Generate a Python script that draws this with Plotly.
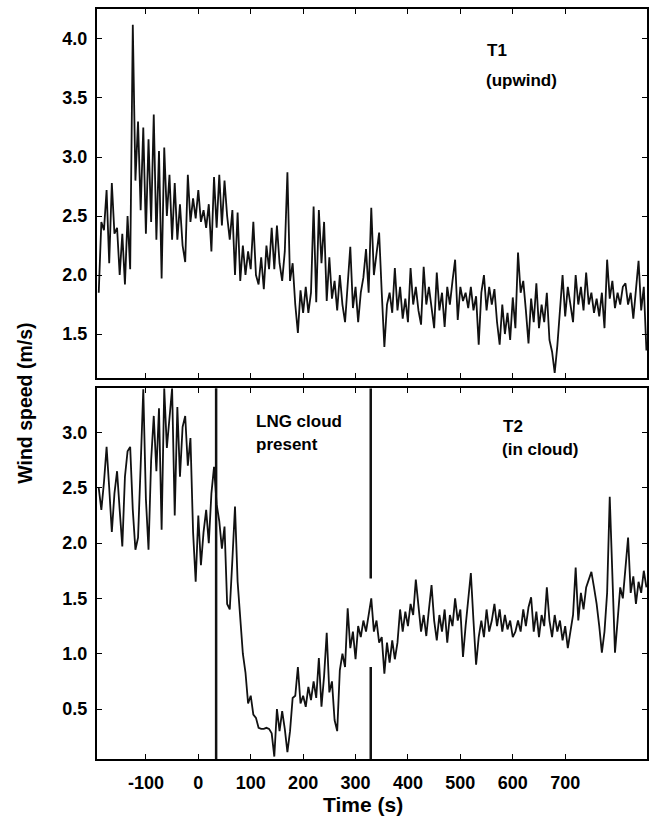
import numpy as np
import plotly.graph_objects as go

# Sample times (s) relative to the spill; one sample every 5 s
time_s = np.arange(-190, 856, 5)

# Wind speed at tower T1 (upwind), m/s
t1_speed = [
    1.85, 2.45, 2.38, 2.72, 2.10, 2.78, 2.35, 2.40, 2.00, 2.35,
    1.92, 2.50, 2.05, 4.12, 2.80, 3.30, 2.55, 3.25, 2.35, 3.15,
    2.45, 3.36, 2.30, 3.05, 1.97, 3.08, 2.50, 2.85, 2.30, 2.78,
    2.30, 2.60, 2.25, 2.11, 2.85, 2.45, 2.65, 2.48, 2.72, 2.45,
    2.55, 2.40, 2.60, 2.20, 2.83, 2.40, 2.85, 2.42, 2.80, 2.50,
    2.30, 2.55, 2.00, 2.53, 1.95, 2.25, 2.00, 2.20, 2.05, 2.45,
    2.00, 1.92, 2.15, 1.88, 2.25, 2.05, 2.40, 2.05, 2.42, 2.10,
    1.95, 2.20, 2.87, 1.95, 2.10, 1.75, 1.51, 1.87, 1.68, 1.90,
    1.68, 1.85, 2.58, 1.77, 2.55, 2.10, 2.45, 1.78, 2.15, 1.80,
    1.95, 1.70, 2.00, 1.75, 1.60, 1.95, 2.24, 1.72, 1.90, 1.60,
    1.85, 1.98, 2.22, 1.85, 2.57, 2.00, 2.20, 2.36, 1.85, 1.39,
    1.75, 1.85, 1.68, 2.06, 1.70, 1.90, 1.63, 1.80, 1.60, 2.06,
    1.75, 1.90, 1.70, 1.58, 2.07, 1.75, 1.90, 1.70, 1.55, 2.02,
    1.70, 1.85, 1.56, 1.90, 1.75, 1.95, 2.13, 1.62, 1.90, 1.78,
    1.85, 1.72, 1.90, 1.70, 1.82, 1.41, 1.85, 2.00, 1.70, 1.90,
    1.75, 1.88, 1.60, 1.41, 1.75, 1.50, 1.68, 1.45, 1.81, 1.55,
    2.19, 1.85, 1.95, 1.70, 1.42, 1.80, 1.60, 1.93, 1.55, 1.75,
    1.60, 1.85, 1.45, 1.35, 1.17, 1.40, 1.70, 2.00, 1.65, 1.90,
    1.75, 1.60, 2.00, 1.75, 1.90, 1.70, 2.02, 1.75, 1.85, 1.68,
    1.80, 1.65, 1.85, 1.55, 2.13, 1.80, 1.95, 1.72, 1.85, 1.75,
    1.90, 1.93, 1.75, 1.85, 1.63, 1.85, 2.12, 1.70, 1.90, 1.36,
]

# Wind speed at tower T2 (inside the cloud), m/s
t2_speed = [
    2.50, 2.30, 2.55, 2.87, 2.50, 2.10, 2.45, 2.65, 2.30, 1.97,
    2.60, 2.83, 2.87, 2.30, 1.94, 2.05, 2.70, 3.39, 2.40, 1.94,
    2.75, 3.15, 2.65, 3.22, 2.12, 3.40, 2.86, 3.10, 3.40, 2.25,
    3.23, 2.60, 3.05, 3.15, 2.70, 2.95, 2.10, 1.65, 2.25, 1.80,
    2.10, 2.30, 2.00, 2.45, 2.69, 2.35, 2.20, 1.95, 2.15, 1.45,
    1.40, 1.85, 2.33, 1.65, 1.30, 1.00, 0.83, 0.55, 0.62, 0.45,
    0.42, 0.33, 0.32, 0.32, 0.33, 0.32, 0.28, 0.07, 0.50, 0.30,
    0.48, 0.32, 0.11, 0.30, 0.60, 0.62, 0.88, 0.55, 0.62, 0.52,
    0.70, 0.58, 0.75, 0.60, 0.96, 0.52, 0.80, 1.19, 0.65, 0.75,
    0.40, 0.30, 0.85, 1.00, 0.88, 1.41, 1.05, 1.20, 0.95, 1.25,
    1.15, 1.30, 1.20, 1.35, 1.50, 1.20, 1.30, 1.10, 1.15, 0.82,
    1.10, 0.92, 1.12, 0.95, 1.10, 1.40, 1.20, 1.38, 1.25, 1.45,
    1.35, 1.67, 1.40, 1.20, 1.35, 1.16, 1.40, 1.62, 1.30, 1.12,
    1.35, 1.20, 1.40, 1.10, 1.35, 1.25, 1.50, 1.30, 1.40, 0.97,
    1.25, 1.50, 1.73, 1.30, 0.90, 1.15, 1.30, 1.15, 1.40, 1.20,
    1.30, 1.45, 1.25, 1.40, 1.20, 1.35, 1.22, 1.30, 1.15, 1.20,
    1.30, 1.20, 1.40, 1.25, 1.42, 1.51, 1.20, 1.38, 1.15, 1.35,
    1.25, 1.60, 1.30, 1.15, 1.35, 1.20, 1.30, 1.12, 1.25, 1.05,
    1.20, 1.35, 1.78, 1.30, 1.55, 1.40, 1.60, 1.68, 1.74, 1.60,
    1.45, 1.25, 1.01, 1.20, 1.55, 2.42, 1.70, 1.01, 1.30, 1.60,
    1.50, 1.75, 2.05, 1.55, 1.70, 1.45, 1.65, 1.55, 1.75, 1.60,
]

# Cloud arrival / departure at T2 (s)
cloud_arrival_s = 34
cloud_departure_s = 329

x_tick_vals = [-100, 0, 100, 200, 300, 400, 500, 600, 700]
x_tick_text = ["-100", "0", "100", "200", "300", "400", "500", "600", "700"]
t1_tick_vals = [1.5, 2.0, 2.5, 3.0, 3.5, 4.0]
t2_tick_vals = [0.5, 1.0, 1.5, 2.0, 2.5, 3.0]

FONT = "Liberation Sans, Arial, Helvetica, sans-serif"
INK = "#111111"

fig = go.Figure()
fig.add_trace(go.Scatter(x=time_s, y=t1_speed, mode="lines",
                         line=dict(color=INK, width=1.8),
                         xaxis="x", yaxis="y", showlegend=False))
fig.add_trace(go.Scatter(x=time_s, y=t2_speed, mode="lines",
                         line=dict(color=INK, width=1.8),
                         xaxis="x2", yaxis="y2", showlegend=False))

axis_style = dict(
    showline=True, linecolor="black", linewidth=2, mirror="ticks",
    ticks="inside", ticklen=5, tickwidth=1.3, tickcolor="black",
    showgrid=False, zeroline=False,
    tickfont=dict(family=FONT, size=18, color="black", weight="bold"),
)
x_range = [-193.3, 856.1]

fig.update_layout(
    width=653, height=825,
    margin=dict(l=97, r=4, t=9, b=66),
    paper_bgcolor="white", plot_bgcolor="white",
    xaxis=dict(domain=[0, 1], anchor="y", range=x_range,
               tickvals=x_tick_vals, showticklabels=False, **axis_style),
    xaxis2=dict(domain=[0, 1], anchor="y2", range=x_range,
                tickvals=x_tick_vals, ticktext=x_tick_text,
                ticklabelstandoff=6, **axis_style),
    yaxis=dict(domain=[0.5084, 1], anchor="x", range=[1.13, 4.254],
               tickvals=t1_tick_vals, tickformat=".1f",
               ticklabelstandoff=4, **axis_style),
    yaxis2=dict(domain=[0, 0.4943], anchor="x2", range=[0.048, 3.40],
                tickvals=t2_tick_vals, tickformat=".1f",
                ticklabelstandoff=4, **axis_style),
)

# Cloud arrival and departure markers on the T2 panel
fig.add_shape(type="line", xref="x2", yref="y2 domain",
              x0=cloud_arrival_s, x1=cloud_arrival_s, y0=0, y1=1,
              line=dict(color=INK, width=2.5))
fig.add_shape(type="line", xref="x2", yref="y2",
              x0=cloud_departure_s, x1=cloud_departure_s, y0=1.68, y1=3.40,
              line=dict(color=INK, width=2.5))
fig.add_shape(type="line", xref="x2", yref="y2",
              x0=cloud_departure_s, x1=cloud_departure_s, y0=0.048, y1=0.88,
              line=dict(color=INK, width=2.5))

label_font = dict(family=FONT, size=17, color="black", weight="bold")


def note(text, x, y, xanchor="left", size=None, angle=0):
    f = dict(label_font)
    if size:
        f["size"] = size
    fig.add_annotation(text=text, x=x, y=y, xref="paper", yref="paper",
                       xanchor=xanchor, yanchor="middle", showarrow=False,
                       font=f, textangle=angle)


note("T1", 0.706, 0.9453)
note("(upwind)", 0.7042, 0.904)
note("LNG cloud", 0.2862, 0.45)
note("present", 0.2862, 0.42)
note("T2", 0.735, 0.4433)
note("(in cloud)", 0.7332, 0.4127)
note("Time (s)", 0.4828, -0.0613, xanchor="center", size=21)
note("Wind speed (m/s)", -0.1313, 0.4747, xanchor="center", size=19.5, angle=-90)

fig.write_html("out.html")
